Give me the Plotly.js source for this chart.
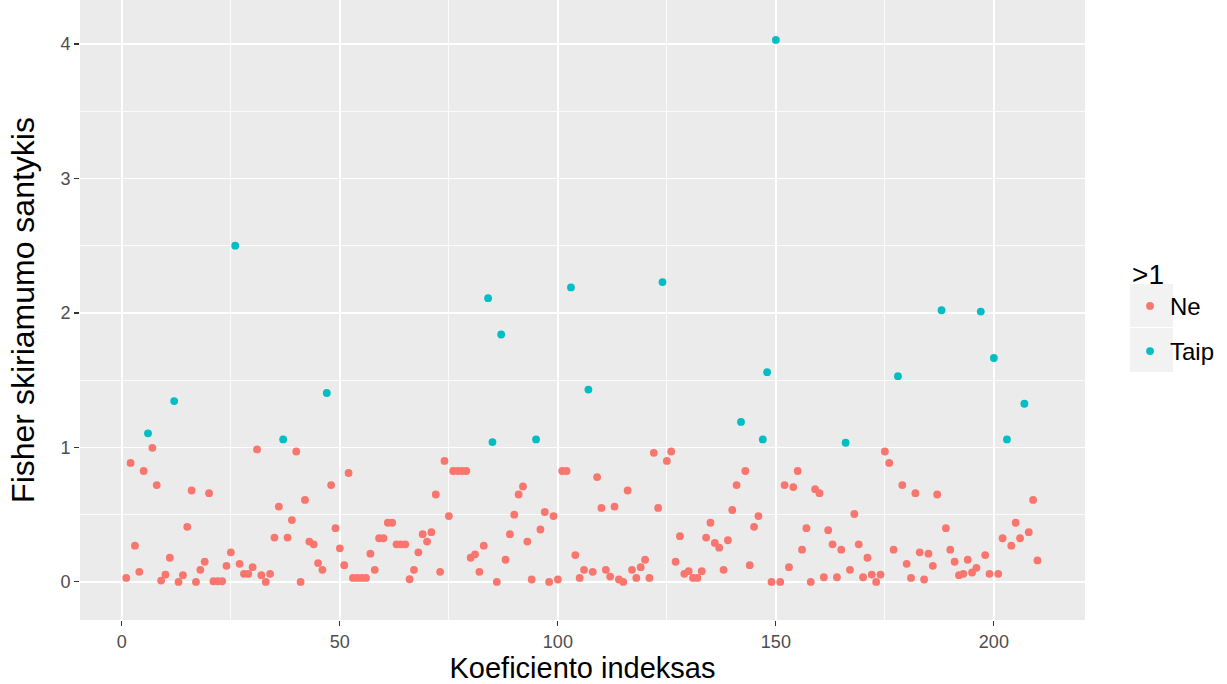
<!DOCTYPE html>
<html>
<head>
<meta charset="utf-8">
<script src="https://cdn.plot.ly/plotly-3.0.1.min.js"></script>
<style>
  html, body { margin: 0; padding: 0; background: #ffffff; }
  #chart { width: 1227px; height: 684px; }
</style>
</head>
<body>
<div id="chart"></div>
<script>
// Fisher discriminant ratio for each coefficient index (1..210)
const fisherRatio = [
  0.03, 0.885, 0.27, 0.075, 0.825, 1.105, 0.997, 0.72, 0.01, 0.055,
  0.18, 1.345, 0.0, 0.05, 0.41, 0.68, 0.0, 0.09, 0.15, 0.66,
  0.005, 0.005, 0.005, 0.12, 0.22, 2.50, 0.135, 0.06, 0.06, 0.11,
  0.985, 0.05, 0.0, 0.06, 0.33, 0.56, 1.06, 0.33, 0.46, 0.97,
  0.0, 0.61, 0.30, 0.28, 0.14, 0.09, 1.405, 0.72, 0.40, 0.25,
  0.125, 0.81, 0.03, 0.03, 0.03, 0.03, 0.21, 0.09, 0.325, 0.325,
  0.44, 0.44, 0.28, 0.28, 0.28, 0.02, 0.09, 0.22, 0.355, 0.30,
  0.37, 0.65, 0.075, 0.90, 0.49, 0.825, 0.825, 0.825, 0.825, 0.18,
  0.205, 0.075, 0.27, 2.11, 1.04, 0.0, 1.84, 0.165, 0.355, 0.50,
  0.65, 0.71, 0.30, 0.018, 1.06, 0.39, 0.52, 0.0, 0.49, 0.018,
  0.825, 0.825, 2.19, 0.20, 0.03, 0.09, 1.43, 0.075, 0.78, 0.55,
  0.09, 0.04, 0.56, 0.018, 0.0, 0.68, 0.09, 0.03, 0.11, 0.165,
  0.03, 0.96, 0.55, 2.23, 0.90, 0.97, 0.15, 0.34, 0.06, 0.08,
  0.03, 0.03, 0.08, 0.33, 0.44, 0.29, 0.255, 0.09, 0.31, 0.535,
  0.72, 1.19, 0.825, 0.125, 0.41, 0.49, 1.06, 1.56, 0.0, 4.03,
  0.0, 0.72, 0.11, 0.705, 0.825, 0.24, 0.40, 0.0, 0.69, 0.66,
  0.035, 0.385, 0.28, 0.035, 0.24, 1.035, 0.09, 0.505, 0.28, 0.035,
  0.18, 0.055, 0.0, 0.055, 0.97, 0.885, 0.24, 1.53, 0.72, 0.135,
  0.03, 0.66, 0.22, 0.018, 0.21, 0.12, 0.65, 2.02, 0.40, 0.24,
  0.15, 0.05, 0.06, 0.165, 0.07, 0.105, 2.01, 0.20, 0.06, 1.665,
  0.06, 0.325, 1.06, 0.27, 0.44, 0.325, 1.325, 0.37, 0.61, 0.16
];

// Group labels for the ">1" legend
const groupNames = ['Ne', 'Taip'];
const groupColors = ['#F8766D', '#00BFC4'];

const xTicks = [0, 50, 100, 150, 200];
const yTicks = [0, 1, 2, 3, 4];

const coefIndex = fisherRatio.map((_, i) => i + 1);

const traces = groupNames.map((name, g) => {
  const xs = [], ys = [];
  fisherRatio.forEach((v, i) => {
    const isAbove = v > 1;
    if ((g === 1) === isAbove) { xs.push(coefIndex[i]); ys.push(v); }
  });
  return {
    type: 'scatter',
    mode: 'markers',
    name: name,
    legendgroup: name,
    x: xs,
    y: ys,
    marker: { color: groupColors[g], size: 7.8, line: { width: 0 } },
    hoverinfo: 'x+y'
  };
});

const FONT = 'Liberation Sans, Arial, sans-serif';

const layout = {
  width: 1227,
  height: 684,
  margin: { l: 80, r: 142, t: 0, b: 64 },
  paper_bgcolor: '#ffffff',
  plot_bgcolor: '#EBEBEB',
  font: { family: FONT, color: '#000000' },
  showlegend: true,
  legend: {
    x: 1.0448, xanchor: 'left',
    y: 0.601, yanchor: 'top',
    bgcolor: 'rgba(0,0,0,0)',
    font: { size: 24, color: '#000000', family: FONT },
    title: { text: '>1', font: { size: 28, color: '#000000', family: FONT } },
    tracegroupgap: 11,
    itemwidth: 30
  },
  xaxis: {
    range: [-9.6, 220.9],
    tickvals: xTicks,
    ticktext: xTicks.map(String),
    showgrid: true, gridcolor: '#ffffff', gridwidth: 1.6,
    minor: { dtick: 25, tick0: 0, showgrid: true, gridcolor: '#ffffff', gridwidth: 0.8 },
    zeroline: false, showline: false,
    ticks: 'outside', ticklen: 5, tickwidth: 1.1, tickcolor: '#333333',
    tickfont: { size: 18, color: '#4D4D4D', family: FONT },
    title: { text: 'Koeficiento indeksas', font: { size: 29, color: '#000000', family: FONT }, standoff: 9 },
    automargin: false
  },
  yaxis: {
    range: [-0.283, 4.327],
    tickvals: yTicks,
    ticktext: yTicks.map(String),
    showgrid: true, gridcolor: '#ffffff', gridwidth: 1.6,
    minor: { dtick: 0.5, tick0: 0, showgrid: true, gridcolor: '#ffffff', gridwidth: 0.8 },
    zeroline: false, showline: false,
    ticks: 'outside', ticklen: 5, tickwidth: 1.1, tickcolor: '#333333',
    tickfont: { size: 18, color: '#4D4D4D', family: FONT },
    title: { text: 'Fisher skiriamumo santykis', font: { size: 32, color: '#000000', family: FONT }, standoff: 16 },
    automargin: false
  },
  shapes: [
    // grey key backgrounds behind the legend symbols
    { type: 'rect', xref: 'paper', yref: 'paper', x0: 1.0448, x1: 1.0876, y0: 0.4726, y1: 0.5419,
      fillcolor: '#F2F2F2', line: { width: 0 }, layer: 'below' },
    { type: 'rect', xref: 'paper', yref: 'paper', x0: 1.0448, x1: 1.0876, y0: 0.400, y1: 0.471,
      fillcolor: '#F2F2F2', line: { width: 0 }, layer: 'below' }
  ]
};

Plotly.newPlot('chart', traces, layout, { displayModeBar: false, staticPlot: true });
</script>
</body>
</html>
